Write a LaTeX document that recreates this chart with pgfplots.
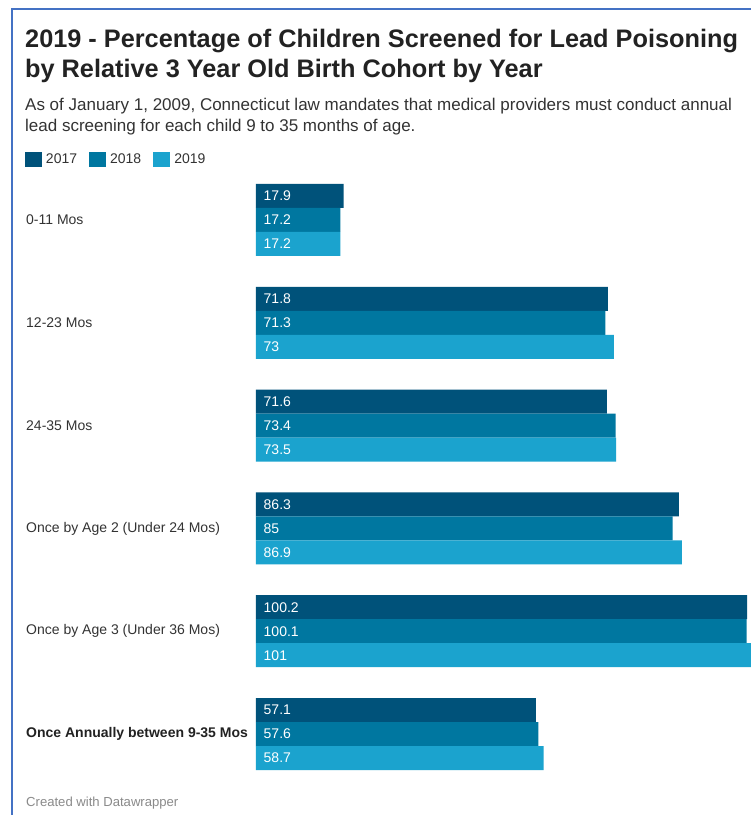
\documentclass[border=0pt]{standalone}
\usepackage{pgfplots}
\pgfplotsset{compat=1.18}
\usepackage{pgfplotstable}
\usepackage{fontspec}
\setmainfont{Liberation Sans}
\definecolor{c2017}{HTML}{00527A}
\definecolor{c2018}{HTML}{0077A0}
\definecolor{c2019}{HTML}{1BA3CE}
\definecolor{frameblue}{HTML}{4472C4}
\definecolor{txt}{HTML}{222222}
\definecolor{subtxt}{HTML}{333333}
\definecolor{foot}{HTML}{8A8A8A}
\pgfplotstableread{
y    a2017  a2018  a2019
5    17.9   17.2   17.2
4    71.8   71.3   73
3    71.6   73.4   73.5
2    86.3   85     86.9
1    100.2  100.1  101
0    57.1   57.6   58.7
}\datatable
\begin{document}
\begin{tikzpicture}[x=1pt,y=-1pt]
\fill[white] (0,0) rectangle (751,815);
\useasboundingbox (0,0) rectangle (751,815);
\draw[frameblue, line width=2pt] (12,815) -- (12,9) -- (751,9);
% titles
\node[anchor=base west, inner sep=0, text=txt, font=\fontsize{25.3}{28}\selectfont\bfseries] at (25,47) {2019 - Percentage of Children Screened for Lead Poisoning};
\node[anchor=base west, inner sep=0, text=txt, font=\fontsize{25.3}{28}\selectfont\bfseries] at (25,77) {by Relative 3 Year Old Birth Cohort by Year};
\node[anchor=base west, inner sep=0, text=subtxt, font=\fontsize{17}{20}\selectfont] at (25,110) {As of January 1, 2009, Connecticut law mandates that medical providers must conduct annual};
\node[anchor=base west, inner sep=0, text=subtxt, font=\fontsize{17}{20}\selectfont] at (25,131) {lead screening for each child 9 to 35 months of age.};
\node[anchor=base west, inner sep=0, text=foot, font=\fontsize{13.1}{15}\selectfont] at (26,806) {Created with Datawrapper};
\begin{axis}[
  at={(256pt,-184pt)}, anchor=north west,
  width=495pt, height=586pt, scale only axis,
  xmin=0, xmax=101, ymin=-0.35, ymax=5.35,
  hide axis, clip=false,
  /pgf/number format/assume math mode=true,
  bar width=24pt,
  legend style={draw=none, fill=none, at={(axis description cs:-0.4667,1.0418)}, anchor=west,
    legend columns=-1, inner sep=0pt, outer sep=0pt,
    /tikz/every odd column/.append style={column sep=4pt},
    /tikz/every even column/.append style={column sep=12pt},
    font=\fontsize{14}{16}\selectfont, text=subtxt,
    nodes={inner sep=0pt}},
  legend image code/.code={\draw[#1,draw=none] (0pt,-7.5pt) rectangle (17pt,7.5pt);},
  nodes near coords={\pgfmathprintnumber{\pgfplotspointmeta}},
  point meta=rawx,
  visualization depends on={rawx \as \xv},
  every node near coord/.append style={anchor=west, inner sep=0pt, text=white,
    font=\fontsize{14}{16}\selectfont, xshift={-\xv*4.90099pt+7.5pt}},
]
\addplot[xbar, fill=c2017, draw=none, bar shift=24pt, every node near coord/.append style={yshift=24pt}] table[x=a2017, y=y] {\datatable};
\addplot[xbar, fill=c2018, draw=none, bar shift=0pt] table[x=a2018, y=y] {\datatable};
\addplot[xbar, fill=c2019, draw=none, bar shift=-24pt, every node near coord/.append style={yshift=-24pt}] table[x=a2019, y=y] {\datatable};
\legend{2017,2018,2019}
\begin{scope}[every node/.style={anchor=west, inner sep=0pt, text=subtxt, font=\fontsize{14}{16}\selectfont, xshift=-230pt}]
\node at (axis cs:0,5) {0-11 Mos};
\node at (axis cs:0,4) {12-23 Mos};
\node at (axis cs:0,3) {24-35 Mos};
\node at (axis cs:0,2) {Once by Age 2 (Under 24 Mos)};
\node at (axis cs:0,1) {Once by Age 3 (Under 36 Mos)};
\node[font=\fontsize{14}{16}\selectfont\bfseries, text=txt] at (axis cs:0,0) {Once Annually between 9-35 Mos};
\end{scope}
\end{axis}
\end{tikzpicture}
\end{document}
